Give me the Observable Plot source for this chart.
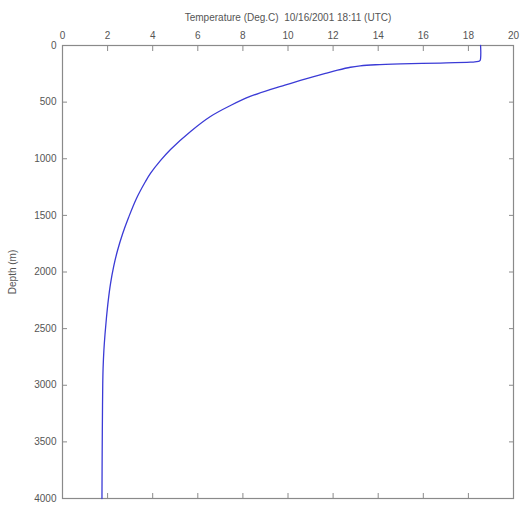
<!DOCTYPE html>
<html>
<head>
<meta charset="utf-8">
<script src="https://cdn.jsdelivr.net/npm/d3@7"></script>
<script src="https://cdn.jsdelivr.net/npm/@observablehq/plot@0.6"></script>
<style>
  html, body { margin: 0; padding: 0; background: #fff; }
  svg { display: block; }
</style>
</head>
<body>
<div id="chart"></div>
<script>
const depth = [0, 60, 115, 132, 141, 147, 155, 162, 170, 180, 192, 218, 247, 278, 309, 350, 389, 450, 530, 627, 759, 918, 1015, 1130, 1201, 1351, 1519, 1660, 1810, 1950, 2102, 2250, 2402, 2550, 2693, 2850, 2985, 3300, 3576, 4000];
const temperature = [18.54, 18.55, 18.54, 18.52, 18.45, 18.09, 16.76, 14.99, 13.88, 13.2, 12.77, 12.2, 11.66, 11.1, 10.55, 9.86, 9.2, 8.32, 7.45, 6.56, 5.68, 4.79, 4.35, 3.9, 3.68, 3.28, 2.93, 2.67, 2.44, 2.27, 2.13, 2.03, 1.95, 1.885, 1.835, 1.8, 1.785, 1.77, 1.76, 1.75];
const xTicks = [0, 2, 4, 6, 8, 10, 12, 14, 16, 18, 20];
const yTicks = [0, 500, 1000, 1500, 2000, 2500, 3000, 3500, 4000];
const titleText = "Temperature (Deg.C)  10/16/2001 18:11 (UTC)";
const yLabel = "Depth (m)";

const data = depth.map((d, i) => ({depth: d, temp: temperature[i]}));

const axisColor = "#8a8a8a";
const textColor = "#555";
const noText = () => "";

const chart = Plot.plot({
  width: 526,
  height: 512,
  marginLeft: 62,
  marginRight: 13,
  marginTop: 45,
  marginBottom: 14,
  style: {fontFamily: "Liberation Sans, Arial, sans-serif", fontSize: "10px", color: textColor, background: "#fff"},
  x: {domain: [0, 20]},
  y: {domain: [0, 4000], reverse: true},
  marks: [
    Plot.frame({stroke: axisColor, strokeWidth: 1.2}),
    Plot.axisX(xTicks, {anchor: "top", tickSize: -5, tickPadding: 12, stroke: axisColor, fill: textColor,
      label: titleText, labelAnchor: "center", labelArrow: "none", labelOffset: 32, fontSize: 10}),
    Plot.axisX(xTicks, {anchor: "bottom", tickSize: -5, tickFormat: noText, stroke: axisColor, label: null}),
    Plot.axisY(yTicks, {anchor: "left", tickSize: -5, tickPadding: 11, tickFormat: d3.format("d"), stroke: axisColor, fill: textColor,
      label: yLabel, labelAnchor: "center", labelArrow: "none", labelOffset: 54, fontSize: 10}),
    Plot.axisY(yTicks, {anchor: "right", tickSize: -5, tickFormat: noText, stroke: axisColor, label: null}),
    Plot.line(data, {x: "temp", y: "depth", stroke: "#3b3bd6", strokeWidth: 1.3, sort: null, curve: "catmull-rom"})
  ]
});
document.getElementById("chart").appendChild(chart);
</script>
</body>
</html>
